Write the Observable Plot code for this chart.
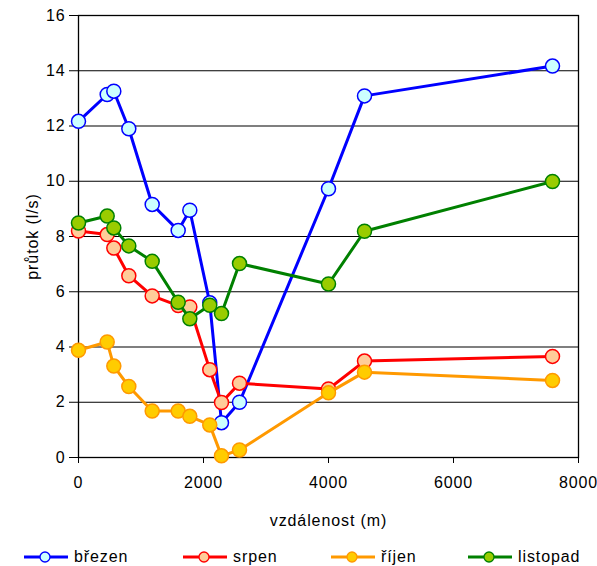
<!DOCTYPE html>
<html>
<head>
<meta charset="utf-8">
<script src="https://cdn.jsdelivr.net/npm/d3@7"></script>
<script src="https://cdn.jsdelivr.net/npm/@observablehq/plot@0.6"></script>
<style>
  html, body { margin: 0; padding: 0; background: #fff; }
  body { width: 597px; height: 566px; overflow: hidden; font-family: "Liberation Sans", Arial, sans-serif; }
  #chart svg text { letter-spacing: 0.9px; }
  #legend { position: relative; width: 597px; height: 31px; font-size: 16px; letter-spacing: 0.9px; color: #000; }
  .item { position: absolute; top: 6px; height: 31px; display: flex; align-items: center; }
  .item svg { display: block; margin-right: 6px; }
</style>
</head>
<body>
<div id="chart"></div>
<div id="legend"></div>
<script>
const distance = [0, 459, 565, 805, 1179, 1595, 1781, 2100, 2288, 2576, 4000, 4576, 7584];
const brezen   = [12.17, 13.14, 13.26, 11.9, 9.16, 8.22, 8.95, 5.6, 1.26, 2.0, 9.73, 13.09, 14.17];
const srpen    = [8.2, 8.07, 7.58, 6.58, 5.85, 5.5, 5.45, 3.18, 1.99, 2.69, 2.48, 3.49, 3.66];
const rijen    = [3.88, 4.18, 3.31, 2.57, 1.68, 1.68, 1.49, 1.18, 0.06, 0.27, 2.34, 3.09, 2.79];
const listopad = [8.49, 8.74, 8.31, 7.66, 7.10, 5.62, 5.02, 5.51, 5.21, 7.02, 6.28, 8.19, 9.99];

const seriesNames = ["březen", "srpen", "říjen", "listopad"];
const seriesValues = [brezen, srpen, rijen, listopad];
const lineColors = ["#0000FF", "#FF0000", "#FF9900", "#008000"];
const fillColors = ["#CCFFFF", "#FFCC99", "#FFCC00", "#99CC00"];
const xTicks = [0, 2000, 4000, 6000, 8000];
const yTicks = [0, 2, 4, 6, 8, 10, 12, 14, 16];
const xLabel = "vzdálenost (m)";
const yLabel = "průtok (l/s)";

const font = "Liberation Sans, Arial, sans-serif";

const seriesMarks = seriesNames.flatMap((name, i) => {
  const data = distance.map((d, j) => ({x: d, y: seriesValues[i][j], s: name}));
  return [
    Plot.line(data, {x: "x", y: "y", stroke: lineColors[i], strokeWidth: 3}),
    Plot.dot(data, {x: "x", y: "y", r: 7, fill: fillColors[i], stroke: lineColors[i], strokeWidth: 1.5})
  ];
});

const chart = Plot.plot({
  width: 597,
  height: 535,
  marginLeft: 78,
  marginRight: 19,
  marginTop: 15,
  marginBottom: 78,
  style: {fontFamily: font, fontSize: "16px", color: "#000", background: "#fff"},
  x: {domain: [0, 8000]},
  y: {domain: [0, 16]},
  marks: [
    Plot.gridY(yTicks, {stroke: "#000", strokeOpacity: 1, strokeWidth: 1.1}),
    Plot.frame({stroke: "#000", strokeWidth: 1.3}),
    Plot.axisX(xTicks, {tickSize: 6, tickPadding: 13, tickFormat: d => String(d), label: null, fontSize: 16, stroke: "#000"}),
    Plot.axisY(yTicks, {tickSize: 9, tickPadding: 4, tickFormat: d => String(d), label: null, fontSize: 16, stroke: "#000"}),
    Plot.text([yLabel], {text: d => d, frameAnchor: "left", textAnchor: "middle", lineAnchor: "middle", rotate: -90, dx: -46, fontSize: 16, fill: "#000"}),
    Plot.text([xLabel], {text: d => d, frameAnchor: "bottom", textAnchor: "middle", lineAnchor: "middle", dy: 63.5, fontSize: 16, fill: "#000"}),
    ...seriesMarks
  ]
});
document.getElementById("chart").appendChild(chart);

const legendLeft = [24, 183, 331, 468];
const legend = document.getElementById("legend");
seriesNames.forEach((name, i) => {
  const item = document.createElement("div");
  item.className = "item";
  item.style.left = legendLeft[i] + "px";
  item.innerHTML = `<svg width="44" height="14"><line x1="0" y1="7" x2="44" y2="7" stroke="${lineColors[i]}" stroke-width="3"/><circle cx="21" cy="7" r="5" fill="${fillColors[i]}" stroke="${lineColors[i]}" stroke-width="1.3"/></svg><span>${name}</span>`;
  legend.appendChild(item);
});
</script>
</body>
</html>
